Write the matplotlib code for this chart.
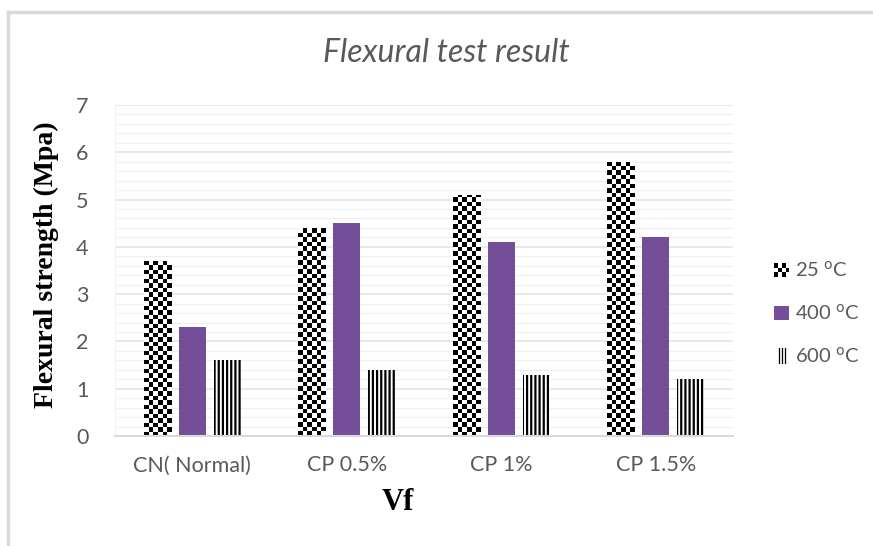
import numpy as np
import matplotlib
matplotlib.use("Agg")
import matplotlib.pyplot as plt
from matplotlib.patches import Rectangle, Patch
from matplotlib.lines import Line2D
from matplotlib.legend_handler import HandlerBase

categories = ["CN( Normal)", "CP 0.5%", "CP 1%", "CP 1.5%"]
series_names = ["25 $^{\\mathrm{o}}$C", "400 $^{\\mathrm{o}}$C", "600 $^{\\mathrm{o}}$C"]
vals_25 = [3.7, 4.4, 5.1, 5.8]
vals_400 = [2.3, 4.5, 4.1, 4.2]
vals_600 = [1.6, 1.4, 1.3, 1.2]
yticks = [0, 1, 2, 3, 4, 5, 6, 7]

title = "Flexural test result"
ylabel = "Flexural strength (Mpa)"
xlabel = "Vf"

GREY = "#595959"
PURPLE = "#744e98"
SANS = ["Lato", "DejaVu Sans"]
SERIF = ["Liberation Serif", "DejaVu Serif"]

plt.rcParams["hatch.linewidth"] = 1.6

fig = plt.figure(figsize=(8.73, 5.46), dpi=100)
ax = fig.add_axes([0.1317, 0.2015, 0.7079, 0.6062])

x = np.arange(len(categories))
w = 0.175
off = 0.227

bars25 = ax.bar(x - off, vals_25, w, color="white", edgecolor="none", zorder=2)
bars400 = ax.bar(x, vals_400, w, color=PURPLE, edgecolor="none", zorder=2)
bars600 = ax.bar(x + off, vals_600, w, color="white", edgecolor="black", linewidth=0,
                 hatch="||||", zorder=2)

ax.set_xlim(-0.5, len(categories) - 0.5)
ax.set_ylim(0, 7)

# checker texture clipped to the 25 C bars
cell_h = 0.095
for r in bars25:
    bx, bw, bh = r.get_x(), r.get_width(), r.get_height()
    ncols = 6
    nrows = int(np.ceil(bh / cell_h)) + 1
    pat = (np.add.outer(np.arange(nrows), np.arange(ncols)) % 2).astype(float)
    im = ax.imshow(pat, cmap="gray", interpolation="nearest", origin="lower",
                   extent=(bx, bx + bw, 0, nrows * cell_h), aspect="auto", zorder=2.5)
    im.set_clip_path(r)

ax.set_xlim(-0.5, len(categories) - 0.5)
ax.set_ylim(0, 7)

ax.set_yticks(yticks)
ax.set_yticks(np.arange(0, 7.01, 0.2), minor=True)
ax.grid(axis="y", which="minor", color="#f0f0f0", linewidth=0.9, zorder=0)
ax.grid(axis="y", which="major", color="#e6e6e6", linewidth=1.3, zorder=0)
ax.set_axisbelow(True)
ax.set_xticks(x)
ax.set_xticklabels(categories)
ax.tick_params(axis="both", which="both", length=0, colors=GREY, labelsize=15.5)
ax.tick_params(axis="y", pad=19)
ax.tick_params(axis="x", pad=14)
for lab in ax.get_xticklabels() + ax.get_yticklabels():
    lab.set_family(SANS)

for s in ["top", "right"]:
    ax.spines[s].set_visible(False)
ax.spines["left"].set_color("#f0f0f0")
ax.spines["bottom"].set_color("#d9d9d9")
ax.spines["bottom"].set_linewidth(1.5)

fig.text(0.511, 0.903, title, ha="center", va="center", fontsize=23, style="italic",
         color=GREY, family=SANS)
fig.text(0.053, 0.516, ylabel, ha="center", va="center", rotation=90, fontsize=20,
         fontweight="bold", color="black", family=SERIF)
fig.text(0.456, 0.079, xlabel, ha="center", va="center", fontsize=22,
         fontweight="bold", color="black", family=SERIF)


class CheckerHandler(HandlerBase):
    def create_artists(self, legend, orig_handle, xdescent, ydescent, width, height,
                       fontsize, trans):
        arts = []
        nc, nr = 4, 3
        cw, ch = width / nc, height / nr
        for i in range(nr):
            for j in range(nc):
                fc = "black" if (i + j) % 2 == 0 else "white"
                arts.append(Rectangle((-xdescent + j * cw, -ydescent + i * ch), cw, ch,
                                      facecolor=fc, edgecolor="none", transform=trans))
        return arts


class StripeHandler(HandlerBase):
    def create_artists(self, legend, orig_handle, xdescent, ydescent, width, height,
                       fontsize, trans):
        arts = []
        for k in range(3):
            xx = -xdescent + width * (0.3 + 0.2 * k)
            arts.append(Line2D([xx, xx], [-ydescent, -ydescent + height * 1.1],
                               color="black", linewidth=0.9, transform=trans))
        return arts


class Checker: pass
class Stripe: pass

h25, h600 = Checker(), Stripe()
h400 = Patch(facecolor=PURPLE, edgecolor="none")
leg = fig.legend([h25, h400, h600], series_names,
                 handler_map={Checker: CheckerHandler(), Stripe: StripeHandler()},
                 loc="center left", bbox_to_anchor=(0.887, 0.4267), frameon=False,
                 borderpad=0, borderaxespad=0,
                 handlelength=0.75, handleheight=0.65, handletextpad=0.3,
                 labelspacing=1.15, prop={"family": SANS, "size": 14.5})
for t in leg.get_texts():
    t.set_color(GREY)

# outer chart-area border (left and top visible)
fig.add_artist(Line2D([0.0095, 0.0095], [0.0, 0.978], transform=fig.transFigure,
                      color="#d9d9d9", linewidth=2.5))
fig.add_artist(Line2D([0.0095, 1.0], [0.978, 0.978], transform=fig.transFigure,
                      color="#d9d9d9", linewidth=2.5))

fig.savefig("out.png", dpi=100, facecolor="white")
